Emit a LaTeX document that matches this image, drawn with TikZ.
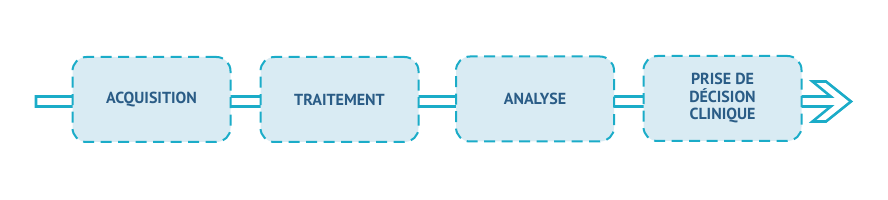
\documentclass[tikz,border=0pt]{standalone}
\usepackage{fontspec}
\setmainfont{PT Sans}
\definecolor{flowcyan}{HTML}{1BACC8}
\definecolor{boxfill}{HTML}{D9EBF3}
\definecolor{textblue}{HTML}{2A5C86}
\tikzset{
  stagebox/.style={draw=flowcyan, fill=boxfill, line width=2pt,
    dash pattern=on 11pt off 6.5pt, rounded corners=14pt,
    minimum width=158pt, minimum height=85pt, inner sep=0pt,
    align=center, text=textblue,
    font=\bfseries\fontsize{16}{17.5}\selectfont},
  flowband/.style={draw=flowcyan, line width=2.6pt, line join=miter}
}
\begin{document}
\begin{tikzpicture}[x=1pt,y=-1pt]
\useasboundingbox (0,0) rectangle (888,200);
\draw[flowband] (36,96.5) -- (830.75,96.5) -- (812.5,81.5) -- (826,81.5)
  -- (851,101.5) -- (826,121.5) -- (812.5,121.5) -- (830.75,106.5)
  -- (36,106.5) -- cycle;
\node[stagebox] (acq) at (151.5,99.5) {ACQUISITION};
\node[stagebox] (trait) at (339.5,99.5) {TRAITEMENT};
\node[stagebox] (anal) at (535,99) {ANALYSE};
\node[stagebox] (dec) at (722.5,98.5) {PRISE DE\\DÉCISION\\CLINIQUE};
\end{tikzpicture}
\end{document}
